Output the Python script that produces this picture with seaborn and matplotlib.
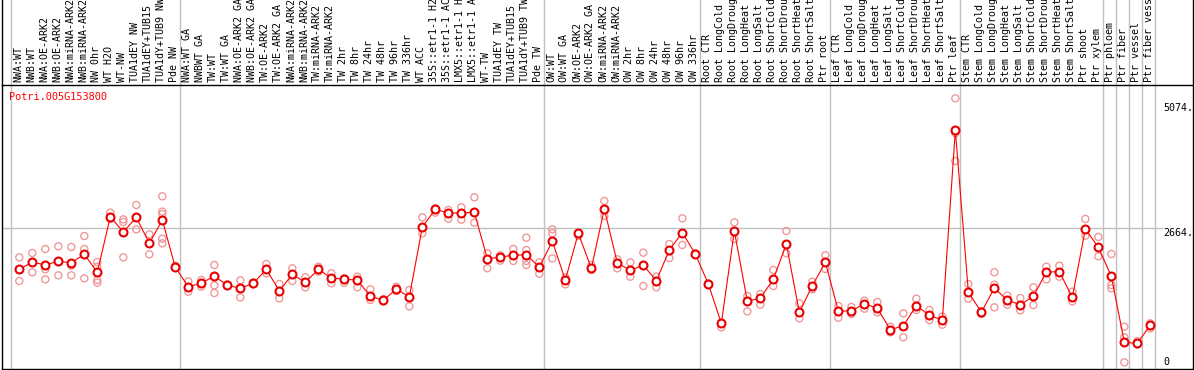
import matplotlib
matplotlib.use("Agg")
import matplotlib.pyplot as plt
import numpy as np
import pandas as pd
import seaborn as sns

gene_name = "Potri.005G153800"

sample_labels = [
    "NWA:WT", "NWB:WT", "NWA:OE-ARK2", "NWB:OE-ARK2", "NWA:miRNA-ARK2",
    "NWB:miRNA-ARK2", "NW 0hr", "WT H2O", "WT-NW", "TUA1dEY NW",
    "TUA1dEY+TUB15", "TUA1dY+TUB9 NW", "Pde NW",
    "NWA:WT GA", "NWBWT GA", "TW:WT", "TW:WT GA", "NWA:OE-ARK2 GA",
    "NWB:OE-ARK2 GA", "TW:OE-ARK2", "TW:OE-ARK2 GA", "NWA:miRNA-ARK2",
    "NWB:miRNA-ARK2", "TW:miRNA-ARK2", "TW:miRNA-ARK2", "TW 2hr", "TW 8hr",
    "TW 24hr", "TW 48hr", "TW 96hr", "TW 336hr", "WT ACC",
    "35S::etr1-1 H2", "35S::etr1-1 AC", "LMX5::etr1-1 H", "LMX5::etr1-1 A",
    "WT-TW", "TUA1dEY TW", "TUA1dEY+TUB15", "TUA1dY+TUB9 TW", "Pde TW",
    "OW:WT", "OW:WT GA", "OW:OE-ARK2", "OW:OE-ARK2 GA", "OW:miRNA-ARK2",
    "OW:miRNA-ARK2", "OW 2hr", "OW 8hr", "OW 24hr", "OW 48hr", "OW 96hr",
    "OW 336hr",
    "Root CTR", "Root LongCold", "Root LongDroug", "Root LongHeat",
    "Root LongSalt", "Root ShortCold", "Root ShortDrou", "Root ShortHeat",
    "Root ShortSalt", "Ptr root",
    "Leaf CTR", "Leaf LongCold", "Leaf LongDroug", "Leaf LongHeat",
    "Leaf LongSalt", "Leaf ShortCold", "Leaf ShortDrou", "Leaf ShortHeat",
    "Leaf ShortSalt", "Ptr leaf",
    "Stem CTR", "Stem LongCold", "Stem LongDroug", "Stem LongHeat",
    "Stem LongSalt", "Stem ShortCold", "Stem ShortDrou", "Stem ShortHeat",
    "Stem ShortSalt", "Ptr shoot", "Ptr xylem",
    "Ptr phloem", "Ptr fiber", "Ptr vessel", "Ptr fiber vess",
]

group_sizes = [13, 28, 12, 10, 10, 11, 1, 1, 1, 1]

mean_values = [
    1870, 2010, 1953, 2024, 1997, 2158, 1812, 2881, 2587, 2869, 2370, 2818, 1908,
    1536, 1601, 1741, 1562, 1505, 1601, 1870, 1453, 1774, 1620, 1870, 1703,
    1678, 1665, 1351, 1274, 1491, 1338, 2683, 3023, 2952, 2952, 2966, 2074,
    2101, 2145, 2145, 1914,
    2408, 1665, 2562, 1889, 3029, 1991, 1851, 1947, 1651, 2241, 2574, 2164,
    1588, 832, 2606, 1255, 1318, 1678, 2356, 1043, 1555, 2004,
    1069, 1069, 1209, 1120, 709, 786, 1171, 986, 896, 4542,
    1434, 1044, 1511, 1274, 1190, 1351, 1818, 1824, 1332, 2645, 2293,
    1736, 467, 448, 800,
]

replicate_values = [
    [2100, 1645], [2183, 1812], [2260, 1677, 1870], [2312, 1754],
    [2299, 1754, 1940], [2510, 2260, 1697], [2010, 1921, 1665, 1613],
    [2959, 2837], [2830, 2779, 2100], [3106, 2638], [2542, 2158],
    [3273, 2979, 2933, 2459, 2369], [1940, 1908],
    [1639, 1440], [1665, 1536], [1953, 1562, 1415], [1581, 1549],
    [1658, 1331], [1613, 1581], [1972, 1793], [1588, 1312], [1889, 1645],
    [1716, 1524], [1921, 1825], [1793, 1600], [1697, 1613], [1728, 1524],
    [1485, 1280], [1254, 1293], [1536, 1453], [1472, 1158], [2869, 2561],
    [3042, 2959], [3010, 2843], [3061, 2824], [3253, 2766], [2177, 1889],
    [2139, 2036], [2260, 2030], [2478, 2241, 2030, 1953], [2004, 1786],
    [2638, 2561, 2081], [1716, 1581], [2549, 2510], [1953, 1857],
    [3183, 2895], [2062, 1889], [2004, 1728], [2190, 1549], [1728, 1524],
    [2356, 2087], [2850, 2337], [2177, 2145],
    [1600, 1568], [844, 755], [2773, 2452], [1357, 1062], [1395, 1190],
    [1857, 1549], [2606, 2177], [1216, 928], [1632, 1485], [2139, 1876],
    [1165, 940], [1146, 1011], [1267, 1113], [1242, 1043], [767, 659],
    [1024, 563], [1306, 1088], [1088, 896], [960, 806], [5156, 4485, 3952],
    [1588, 1306], [1069, 1011], [1812, 1575, 1139], [1363, 1190],
    [1318, 1081], [1524, 1184], [1921, 1677], [1940, 1728], [1440, 1254],
    [2837, 2516], [2491, 2119],
    [2164, 1568, 1504], [767, 563, 82], [492, 428], [832, 735],
]

y_ticks = [0, 2664, 5074]
y_tick_labels = ["0", "2664.", "5074."]

sns.set_theme(style="white")
plt.rcParams["font.family"] = ["DejaVu Sans Mono", "DejaVu Sans"]

W, H = 1194, 370
fig = plt.figure(figsize=(W / 100, H / 100), dpi=100)

# main plot area and label strip above it (pixel layout of the original)
ax = fig.add_axes([1.7 / W, 1 / H, (1193 - 1.7) / W, (369 - 85) / H])
ax_lab = fig.add_axes([1.7 / W, (H - 85) / H, (1193 - 1.7) / W, 86 / H])

x_lim = (-1.354, 90.28)
grid_col = "#c0c0c0"

# long-form replicate table
rep_df = pd.DataFrame(
    [(i, v) for i, vals in enumerate(replicate_values) for v in vals],
    columns=["sample", "value"],
)
mean_df = pd.DataFrame({"sample": np.arange(len(mean_values)), "value": mean_values})

# group separators
bounds = np.concatenate([[0], np.cumsum(group_sizes)]) - 0.62
for b in bounds:
    ax.axvline(b, color=grid_col, lw=1, zorder=0)
    ax_lab.axvline(b, color=grid_col, lw=1, zorder=0)
ax.hlines(y_ticks[1], x_lim[0], 87.95, color=grid_col, lw=1, zorder=0)

sns.scatterplot(
    data=rep_df, x="sample", y="value", ax=ax,
    marker="o", s=26, facecolors="none", edgecolor="#f09494",
    linewidth=0.95, zorder=2, legend=False,
)
sns.lineplot(
    data=mean_df, x="sample", y="value", ax=ax,
    color="red", lw=0.8, marker="o", markersize=5.7,
    markerfacecolor="white", markeredgecolor="#e80000", markeredgewidth=1.5,
    zorder=3, legend=False,
)

ax.set_xlim(*x_lim)
ax.set_ylim(-46, 5412)
ax.set_xticks([])
ax.set_yticks([])
ax.set_xlabel("")
ax.set_ylabel("")
for sp in ax.spines.values():
    sp.set_color("black")
    sp.set_linewidth(1)
ax.spines["top"].set_visible(False)

for v, t in zip(y_ticks, y_tick_labels):
    ax.text(87.98, v, t, ha="left", va="bottom" if v == 0 else "top",
            fontsize=7.2, color="black")

fig.text(9.3 / W, 1 - 92 / H, gene_name, color="red", fontsize=7.4,
         ha="left", va="top")

ax_lab.set_xlim(*x_lim)
ax_lab.set_ylim(0, 86)
ax_lab.set_xticks([])
ax_lab.set_yticks([])
for sp in ax_lab.spines.values():
    sp.set_color("black")
    sp.set_linewidth(1)
ax_lab.spines["top"].set_visible(False)
for i, lab in enumerate(sample_labels):
    ax_lab.text(i - 0.1, 2.5, lab, rotation=90, ha="center", va="bottom",
                fontsize=7.2, color="black")

fig.savefig("out.png", dpi=100)
